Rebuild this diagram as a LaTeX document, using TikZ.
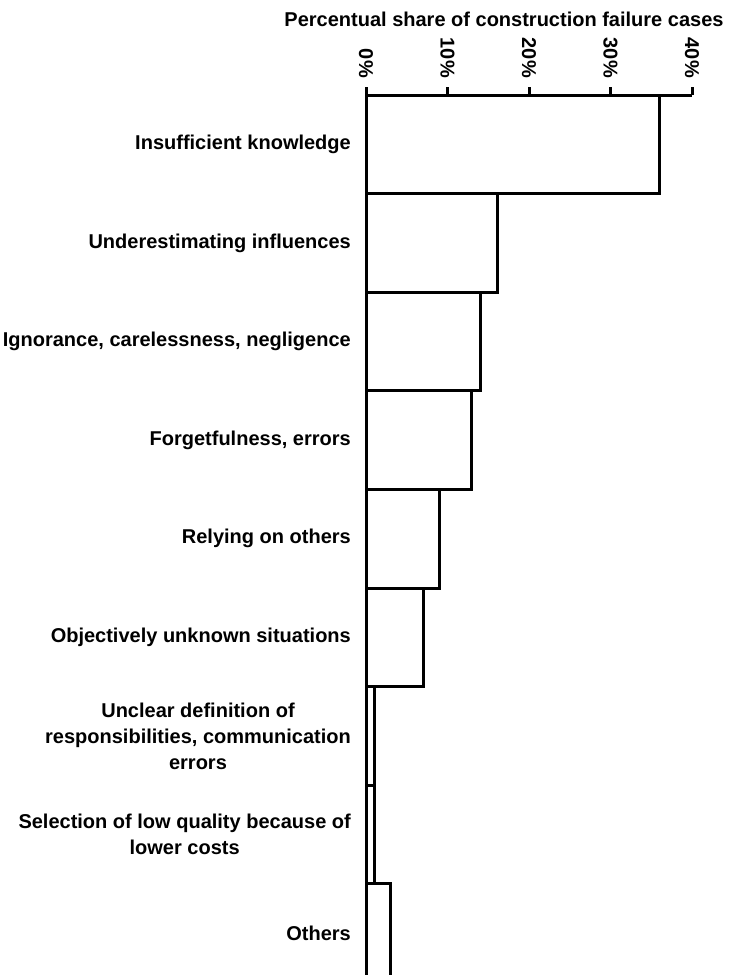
\documentclass[tikz,border=0pt]{standalone}
\usepackage{fontspec}
\setmainfont{Liberation Sans}
\definecolor{chline}{HTML}{000000}
\tikzset{
  barra/.style={draw=chline,line width=3pt,fill=white},
  eixo/.style={draw=chline,line width=3pt},
  rotcat/.style={font=\bfseries\fontsize{20}{26}\selectfont,text=chline,align=center,anchor=east,inner sep=0pt},
  rotpct/.style={font=\bfseries\fontsize{20}{24}\selectfont,text=chline,rotate=-90,anchor=east,inner sep=0pt},
  titulo/.style={font=\bfseries\fontsize{20}{24}\selectfont,text=chline,inner sep=0pt},
}

\begin{document}
\begin{tikzpicture}[x=1pt,y=-1pt]
  \useasboundingbox (0,0) rectangle (731,975);
  \clip (0,0) rectangle (731,975);
  \node[titulo] (tit) at (504,19) {Percentual share of construction failure cases};
  \foreach \i/\v/\t in {1/36/{Insufficient knowledge}, 2/16.1/{Underestimating influences},
      3/14/{Ignorance, carelessness, negligence}, 4/13/{Forgetfulness, errors},
      5/9/{Relying on others}, 6/7/{Objectively unknown situations},
      7/1/{Unclear definition of\\responsibilities, communication\\errors},
      8/1/{Selection of low quality because of\\lower costs}, 9/3/{Others}} {
    \draw[barra] (366,{95+(\i-1)*98.6}) rectangle ({366+8.15*\v},{95+\i*98.6});
    \node[rotcat] (lab\i) at (351,{95+(\i-0.5)*98.6}) {\t};}
  \draw[eixo] (366,95) -- (692,95);                                          % eixo
  \foreach \k/\p in {0/0,1/10,2/20,3/30,4/40} {
    \draw[eixo] ({366+81.5*\k},95) -- ({366+81.5*\k},87);
    \node[rotpct] (pct\k) at ({366+81.5*\k},78) {\p\%};}
\end{tikzpicture}
\end{document}
